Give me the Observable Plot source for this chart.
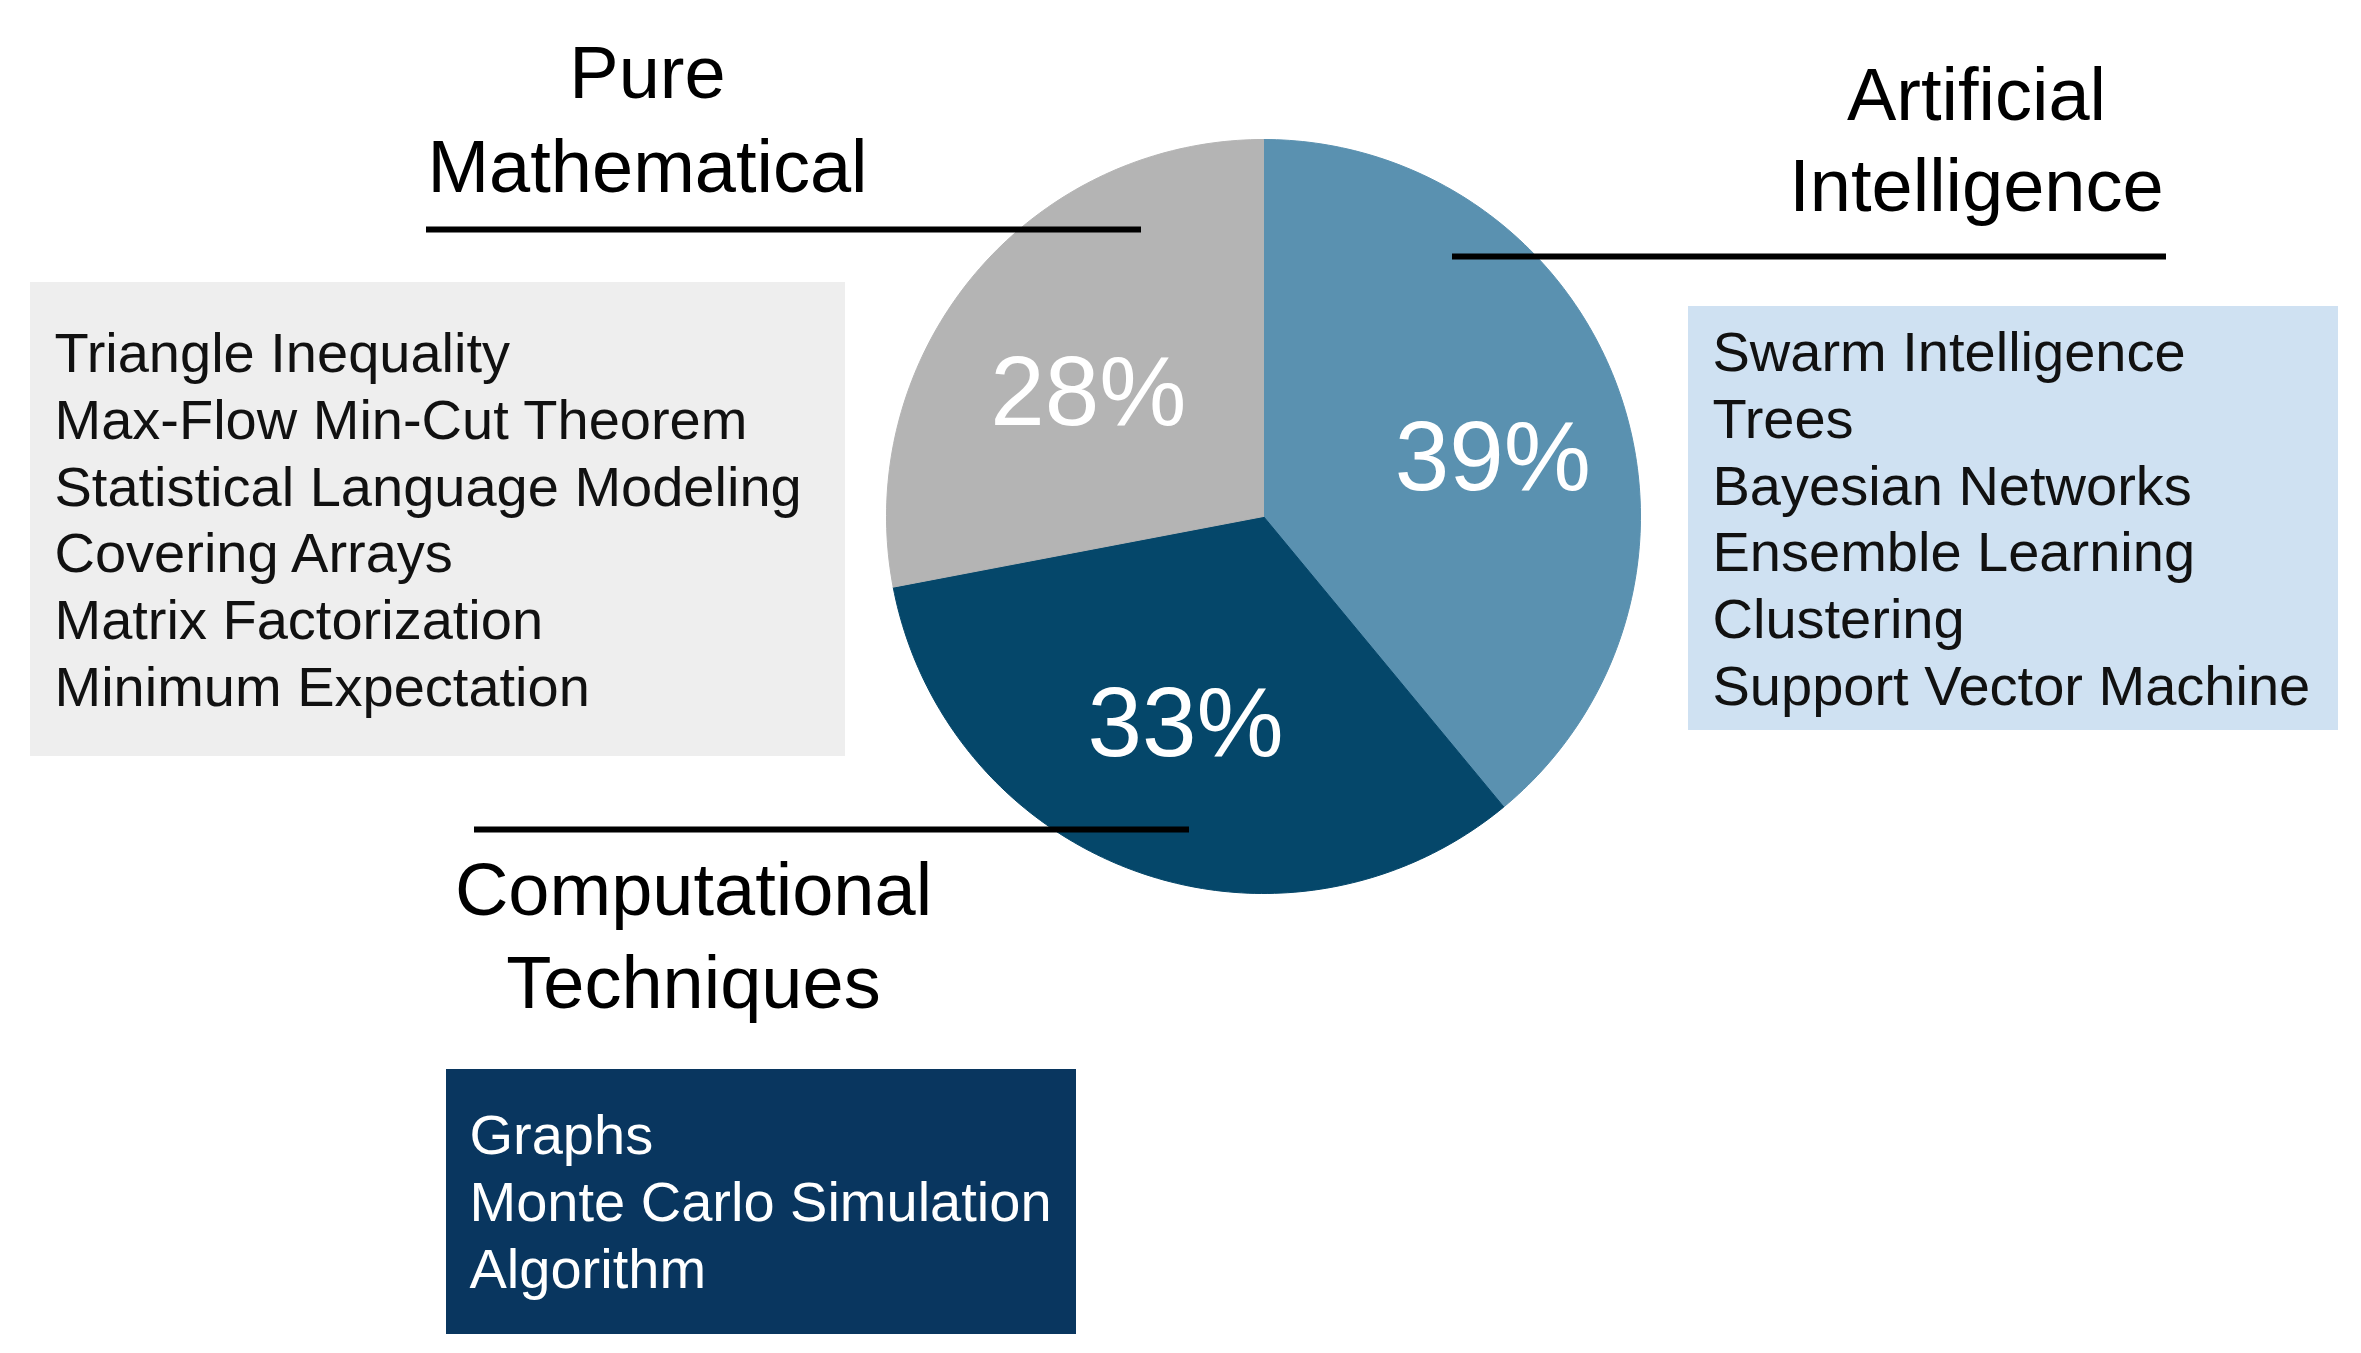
<!DOCTYPE html>
<html>
<head>
<meta charset="utf-8">
<script src="https://cdn.jsdelivr.net/npm/d3@7"></script>
<script src="https://cdn.jsdelivr.net/npm/@observablehq/plot@0.6"></script>
<style>
  html, body { margin: 0; padding: 0; background: #ffffff; overflow: hidden; }
  #chart svg { display: block; }
</style>
</head>
<body>
<div id="chart"></div>
<script>
// ---------------- DATA ----------------
const categories = ["Artificial Intelligence", "Computational Techniques", "Pure Mathematical"];
const shares = [39, 33, 28];
const titleLines = [["Artificial", "Intelligence"], ["Computational", "Techniques"], ["Pure", "Mathematical"]];
const aiTopics = ["Swarm Intelligence", "Trees", "Bayesian Networks", "Ensemble Learning", "Clustering", "Support Vector Machine"];
const compTopics = ["Graphs", "Monte Carlo Simulation", "Algorithm"];
const mathTopics = ["Triangle Inequality", "Max-Flow Min-Cut Theorem", "Statistical Language Modeling", "Covering Arrays", "Matrix Factorization", "Minimum Expectation"];
const sliceColors = ["#5a91b0", "#05476a", "#b4b4b4"];

// ---------------- LAYOUT ----------------
const W = 2361, H = 1353;
const pie = {cx: 1263, cy: 516, r: 377, labelR: 0.61};
const font = "'Liberation Sans', Arial, Helvetica, sans-serif";
// per category: title (x, baseline of last line, line height), leader rule, topic box, label nudge
const layout = [
  {tx: 1976, ty: 210, tlh: 1.22, nudge: [13, 20], rule: {x1: 1452, x2: 2166, y: 256},
   box: {x1: 1688, x2: 2338, y1: 306, y2: 730, fill: "#cfe1f2", text: "#111111", px: 1712, py: 704}, topics: aiTopics},
  {tx: 693, ty: 1007, tlh: 1.25, nudge: [0, -8], rule: {x1: 474, x2: 1189, y: 829},
   box: {x1: 446, x2: 1076, y1: 1069, y2: 1334, fill: "#09365f", text: "#ffffff", px: 469, py: 1287}, topics: compTopics},
  {tx: 647, ty: 191, tlh: 1.26, nudge: [2, 24], rule: {x1: 426, x2: 1141, y: 229},
   box: {x1: 30, x2: 845, y1: 282, y2: 756, fill: "#eeeeee", text: "#111111", px: 54, py: 705}, topics: mathTopics}
];

// ---------------- GEOMETRY FROM DATA ----------------
const total = d3.sum(shares);
let acc = 0;
const slices = categories.map((c, i) => {
  const a0 = acc / total * 2 * Math.PI;
  acc += shares[i];
  const a1 = acc / total * 2 * Math.PI;
  return {cat: c, share: shares[i], a0, a1};
});
const polyPts = [];
for (const s of slices) {
  polyPts.push({cat: s.cat, x: pie.cx, y: pie.cy});
  const n = Math.max(8, Math.ceil((s.a1 - s.a0) / (2 * Math.PI) * 360));
  for (let k = 0; k <= n; ++k) {
    const a = s.a0 + (s.a1 - s.a0) * k / n;
    polyPts.push({cat: s.cat, x: pie.cx + pie.r * Math.sin(a), y: pie.cy - pie.r * Math.cos(a)});
  }
  polyPts.push({cat: s.cat, x: pie.cx, y: pie.cy});
}
const pctLabels = slices.map((s, i) => {
  const m = (s.a0 + s.a1) / 2;
  return {text: `${s.share}%`,
    x: pie.cx + pie.r * pie.labelR * Math.sin(m) + layout[i].nudge[0],
    y: pie.cy - pie.r * pie.labelR * Math.cos(m) + layout[i].nudge[1]};
});
const titles = categories.map((c, i) => ({text: titleLines[i].join("\n"), x: layout[i].tx, y: layout[i].ty, lh: layout[i].tlh}));
const rules = categories.map((c, i) => ({cat: c, ...layout[i].rule}));
const boxes = categories.map((c, i) => ({cat: c, ...layout[i].box}));
const lists = categories.map((c, i) => ({text: layout[i].topics.join("\n"), x: layout[i].box.px, y: layout[i].box.py, color: layout[i].box.text}));

const marks = [
  Plot.rect(boxes, {x1: "x1", x2: "x2", y1: "y1", y2: "y2", fill: d => d.fill}),
  Plot.line(polyPts, {x: "x", y: "y", z: "cat", fill: "cat", stroke: "cat", strokeWidth: 1, curve: "linear"}),
  Plot.text(pctLabels, {x: "x", y: "y", text: "text", fill: "#ffffff", fontSize: 98, textAnchor: "middle", lineAnchor: "middle", fontFamily: font}),
  Plot.ruleY(rules, {y: "y", x1: "x1", x2: "x2", stroke: "#000000", strokeWidth: 6}),
  ...titles.map(t => Plot.text([t], {x: "x", y: "y", text: "text", fill: "#000000", fontSize: 74, textAnchor: "middle", lineAnchor: "bottom", lineHeight: t.lh, fontFamily: font})),
  Plot.text(lists, {x: "x", y: "y", text: "text", fill: d => d.color, fontSize: 56, textAnchor: "start", lineAnchor: "bottom", lineHeight: 1.19, fontFamily: font})
];

const chart = Plot.plot({
  width: W,
  height: H,
  margin: 0,
  x: {domain: [0, W], range: [0, W], axis: null},
  y: {domain: [0, H], range: [0, H], axis: null},
  color: {domain: categories, range: sliceColors},
  style: {fontFamily: font, background: "#ffffff"},
  marks
});
document.getElementById("chart").appendChild(chart);
</script>
</body>
</html>
